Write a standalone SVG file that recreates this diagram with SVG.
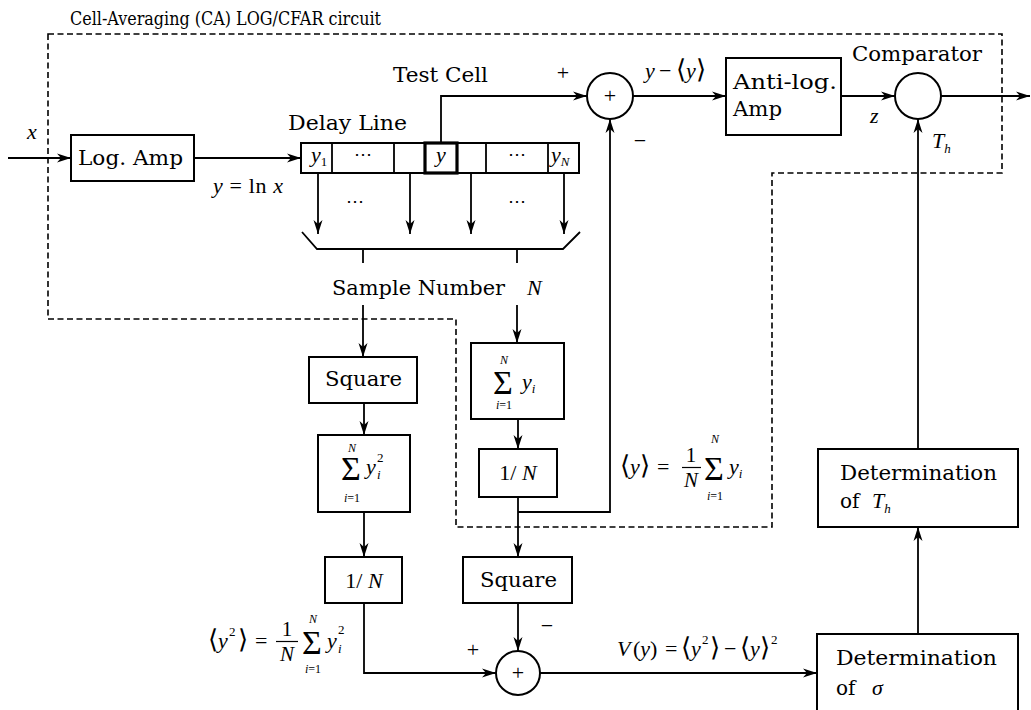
<svg xmlns="http://www.w3.org/2000/svg" width="1031" height="710" viewBox="0 0 1031 710">
<style>
.t{font-family:"DejaVu Serif","Liberation Serif",serif;font-size:20px;fill:#000}
.u{font-family:"Liberation Serif","Times New Roman",serif;font-size:22px;fill:#000}
.mi{font-family:"Liberation Serif","Times New Roman",serif;font-style:italic}
.s{font-size:13px}
.br{font-size:26px}
.sig{font-size:34px}
.lim{font-size:12px}
.fr{font-size:21px}
.dots{font-size:18px}
.box{fill:#fff;stroke:#000;stroke-width:2}
.ln{fill:none;stroke:#000;stroke-width:1.8}
.bar{fill:none;stroke:#000;stroke-width:1.2}
.arr{fill:none;stroke:#000;stroke-width:1.8;marker-end:url(#ah)}
.dash{fill:none;stroke:#000;stroke-width:1.6;stroke-dasharray:6 3.5}
.circ{fill:#fff;stroke:#000;stroke-width:2}
</style>
<defs>
<marker id="ah" markerUnits="userSpaceOnUse" viewBox="0 0 14 10" refX="14" refY="5" markerWidth="14" markerHeight="10" orient="auto">
<path d="M0,0.5 L14,5 L0,9.5 L4,5 z" fill="#000"/>
</marker>
</defs>
<rect width="1031" height="710" fill="#fff"/>

<g id="boundary">
<path class="dash" d="M48,34 H1002 V173 H772 V527 H456 V319 H48 Z"/>
<text class="t" x="70" y="25" style="font-size:18px" textLength="311" lengthAdjust="spacingAndGlyphs">Cell-Averaging (CA) LOG/CFAR circuit</text>
</g>

<g id="connectors">
<path class="arr" d="M8,158 H71"/>
<path class="arr" d="M194,158 H301"/>
<path class="arr" d="M318,173 V234"/>
<path class="arr" d="M410,173 V234"/>
<path class="arr" d="M471,173 V234"/>
<path class="arr" d="M564,173 V234"/>
<path class="ln" d="M302,232 L317,249 H563 L580,232"/>
<path class="ln" d="M363,249 V263"/>
<path class="ln" d="M517,249 V263"/>
<path class="arr" d="M363,305 V357"/>
<path class="arr" d="M517,305 V343"/>
<path class="arr" d="M364,403 V435"/>
<path class="arr" d="M518,419 V449"/>
<path class="arr" d="M364,512 V557"/>
<path class="arr" d="M518,497 V557"/>
<path class="arr" d="M518,512 H610 V119"/>
<path class="arr" d="M441,143 V96 H587"/>
<path class="arr" d="M633,96 H726"/>
<path class="arr" d="M841,96 H895"/>
<path class="arr" d="M941,96 H1030"/>
<path class="arr" d="M918,449 V119"/>
<path class="arr" d="M918,634 V527"/>
<path class="arr" d="M364,603 V673 H496"/>
<path class="arr" d="M518,603 V651"/>
<path class="arr" d="M540,673 H817"/>
</g>

<g id="input-label">
<text class="u mi" x="27" y="139">x</text>
</g>

<g id="log-amp">
<rect class="box" x="71" y="135" width="123" height="46"/>
<text class="t" x="78" y="165" textLength="105" lengthAdjust="spacingAndGlyphs">Log. Amp</text>
<text class="u" x="213" y="193" textLength="70"><tspan class="mi">y</tspan> = ln <tspan class="mi">x</tspan></text>
</g>

<g id="delay-line">
<text class="t" x="288" y="130" textLength="119" lengthAdjust="spacingAndGlyphs">Delay Line</text>
<rect class="box" x="301" y="143" width="278" height="30"/>
<path class="ln" d="M332,143 V173 M394,143 V173 M486,143 V173 M548,143 V173"/>
<rect x="425" y="143" width="32" height="30" fill="#fff" stroke="#000" stroke-width="3.2"/>
<text class="u" x="311" y="162"><tspan class="mi">y</tspan><tspan class="s" dy="4">1</tspan></text>
<text class="u dots" x="363" y="160" text-anchor="middle">⋯</text>
<text class="u mi" x="441" y="162" text-anchor="middle">y</text>
<text class="u dots" x="517" y="160" text-anchor="middle">⋯</text>
<text class="u" x="551" y="162"><tspan class="mi">y</tspan><tspan class="s mi" dy="4">N</tspan></text>
<text class="u dots" x="355" y="207" text-anchor="middle">⋯</text>
<text class="u dots" x="517" y="207" text-anchor="middle">⋯</text>
</g>

<g id="test-cell-label">
<text class="t" x="393" y="82" textLength="95" lengthAdjust="spacingAndGlyphs">Test Cell</text>
</g>

<g id="sample-number">
<text class="t" x="332" y="295" textLength="173" lengthAdjust="spacingAndGlyphs">Sample Number</text>
<text class="u mi" x="527" y="295">N</text>
</g>

<g id="summer-top">
<circle class="circ" cx="610" cy="96" r="23"/>
<text class="u" x="610" y="103" text-anchor="middle">+</text>
<text class="u" x="563" y="80" text-anchor="middle">+</text>
<text class="u" x="640" y="148" text-anchor="middle">−</text>
<text class="u" x="645" y="78"><tspan class="mi">y</tspan><tspan x="659">−</tspan><tspan x="676" class="br">⟨</tspan><tspan class="mi">y</tspan><tspan class="br">⟩</tspan></text>
</g>

<g id="anti-log-amp">
<rect class="box" x="726" y="58" width="115" height="77"/>
<text class="t" x="733" y="89" textLength="104" lengthAdjust="spacingAndGlyphs">Anti-log.</text>
<text class="t" x="733" y="116" textLength="49" lengthAdjust="spacingAndGlyphs">Amp</text>
<text class="u mi" x="870" y="123">z</text>
</g>

<g id="comparator">
<circle class="circ" cx="918" cy="96" r="23"/>
<text class="t" x="852" y="61" textLength="130" lengthAdjust="spacingAndGlyphs">Comparator</text>
<text class="u" x="932" y="148"><tspan class="mi">T</tspan><tspan class="s mi" dy="5">h</tspan></text>
</g>

<g id="square-1">
<rect class="box" x="309" y="357" width="108" height="46"/>
<text class="t" x="325" y="386" textLength="77" lengthAdjust="spacingAndGlyphs">Square</text>
</g>

<g id="sum-yi">
<rect class="box" x="471" y="343" width="93" height="76"/>
<text class="u sig" x="503" y="394" text-anchor="middle">Σ</text>
<text class="u mi lim" x="504" y="364" text-anchor="middle">N</text>
<text class="u lim" x="504" y="409" text-anchor="middle"><tspan class="mi">i</tspan>=1</text>
<text class="u" x="522" y="389"><tspan class="mi">y</tspan><tspan class="s mi" dy="4">i</tspan></text>
</g>

<g id="sum-yi2">
<rect class="box" x="318" y="435" width="92" height="77"/>
<text class="u sig" x="351" y="480" text-anchor="middle">Σ</text>
<text class="u mi lim" x="352" y="452" text-anchor="middle">N</text>
<text class="u lim" x="352" y="502" text-anchor="middle"><tspan class="mi">i</tspan>=1</text>
<text class="u mi" x="366" y="474">y</text>
<text class="u mi s" x="377" y="479">i</text>
<text class="u s" x="377" y="462">2</text>
</g>

<g id="inv-n-1">
<rect class="box" x="479" y="449" width="78" height="48"/>
<text class="u" x="518" y="480" text-anchor="middle">1/ <tspan class="mi">N</tspan></text>
</g>

<g id="mean-eq">
<text class="u" x="620" y="474"><tspan class="br">⟨</tspan><tspan class="mi">y</tspan><tspan class="br">⟩</tspan><tspan x="657">=</tspan></text>
<text class="u fr" x="691" y="462" text-anchor="middle">1</text>
<path class="bar" d="M682,467.5 H701"/>
<text class="u mi fr" x="691" y="487" text-anchor="middle">N</text>
<text class="u sig" x="714" y="480" text-anchor="middle">Σ</text>
<text class="u mi lim" x="715" y="443" text-anchor="middle">N</text>
<text class="u lim" x="715" y="500" text-anchor="middle"><tspan class="mi">i</tspan>=1</text>
<text class="u" x="729" y="474"><tspan class="mi">y</tspan><tspan class="s mi" dy="4">i</tspan></text>
</g>

<g id="inv-n-2">
<rect class="box" x="325" y="557" width="77" height="46"/>
<text class="u" x="364" y="588" text-anchor="middle">1/ <tspan class="mi">N</tspan></text>
</g>

<g id="square-2">
<rect class="box" x="463" y="557" width="109" height="46"/>
<text class="t" x="480" y="587" textLength="77" lengthAdjust="spacingAndGlyphs">Square</text>
</g>

<g id="meansq-eq">
<text class="u" x="208" y="648"><tspan class="br">⟨</tspan><tspan class="mi">y</tspan><tspan class="s" x="229" y="636">2</tspan><tspan class="br" x="238" y="648">⟩</tspan><tspan x="255">=</tspan></text>
<text class="u fr" x="287" y="636" text-anchor="middle">1</text>
<path class="bar" d="M276,641.5 H298"/>
<text class="u mi fr" x="287" y="661" text-anchor="middle">N</text>
<text class="u sig" x="312" y="654" text-anchor="middle">Σ</text>
<text class="u mi lim" x="313" y="623" text-anchor="middle">N</text>
<text class="u lim" x="313" y="673" text-anchor="middle"><tspan class="mi">i</tspan>=1</text>
<text class="u mi" x="327" y="648">y</text>
<text class="u mi s" x="338" y="653">i</text>
<text class="u s" x="338" y="634">2</text>
</g>

<g id="summer-bottom">
<circle class="circ" cx="518" cy="673" r="22"/>
<text class="u" x="518" y="680" text-anchor="middle">+</text>
<text class="u" x="473" y="657" text-anchor="middle">+</text>
<text class="u" x="547" y="633" text-anchor="middle">−</text>
<text class="u" x="617" y="656"><tspan class="mi">V</tspan><tspan x="633">(</tspan><tspan class="mi">y</tspan>)<tspan x="665">=</tspan><tspan x="681" class="br">⟨</tspan><tspan class="mi">y</tspan><tspan class="s" x="702" y="644">2</tspan><tspan class="br" x="710" y="656">⟩</tspan><tspan x="724">−</tspan><tspan x="740" class="br">⟨</tspan><tspan class="mi">y</tspan><tspan class="br">⟩</tspan><tspan class="s" x="771" y="644">2</tspan></text>
</g>

<g id="det-th">
<rect class="box" x="818" y="449" width="200" height="78"/>
<text class="t" x="840" y="480" textLength="157" lengthAdjust="spacingAndGlyphs">Determination</text>
<text class="t" x="840" y="508">of</text>
<text class="u" x="872" y="508"><tspan class="mi">T</tspan><tspan class="s mi" dy="5">h</tspan></text>
</g>

<g id="det-sigma">
<rect class="box" x="817" y="634" width="201" height="90"/>
<text class="t" x="836" y="665" textLength="161" lengthAdjust="spacingAndGlyphs">Determination</text>
<text class="t" x="836" y="695">of</text>
<text class="u mi" x="872" y="695">σ</text>
</g>
</svg>
